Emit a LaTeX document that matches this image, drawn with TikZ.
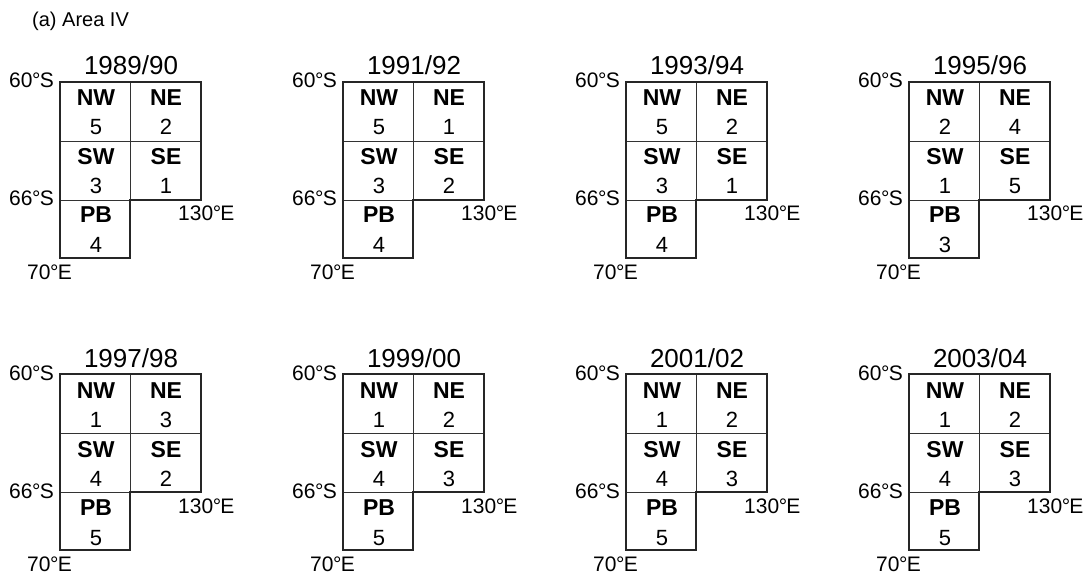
\documentclass[tikz,border=0pt]{standalone}
\usepackage{fontspec}
\setmainfont{Liberation Sans}
\usetikzlibrary{positioning}
\newcommand{\degtight}{\kern-0.4pt°\kern-0.8pt}
\tikzset{
  outline/.style   ={draw=black!85, line width=2.7pt, line join=miter},
  divider/.style   ={draw=black!80, line width=0.8pt},
  paneltitle/.style={font=\fontsize{20}{20}\selectfont, anchor=base west,
                     inner sep=0pt},
  yearlabel/.style ={font=\fontsize{26}{26}\selectfont, anchor=base,
                     inner sep=0pt},
  latlabel/.style  ={font=\fontsize{21}{21}\selectfont, anchor=base east,
                     inner sep=0pt},
  lonlabel/.style  ={font=\fontsize{21}{21}\selectfont, anchor=base west,
                     inner sep=0pt},
  cellname/.style  ={font=\fontsize{23}{23}\selectfont\bfseries, anchor=base,
                     inner sep=0pt},
  cellnum/.style   ={font=\fontsize{22}{22}\selectfont, anchor=base,
                     inner sep=0pt},
}

\begin{document}
\begin{tikzpicture}[x=1pt, y=-1pt]

  \useasboundingbox (0,0) rectangle (1086,577);

  % ============================================================
  % PANEL TITLE
  % ============================================================
  \node[paneltitle] (areatitle) at (32,27) {(a) Area IV};

  % ============================================================
  % EIGHT SEASON PANELS: origin / season / NW NE SW SE PB ranks
  % ============================================================
  \foreach \px/\py/\ya/\yb/\nw/\ne/\sw/\se/\pb [count=\k] in {
      60/82/1989/90/5/2/3/1/4,   343/82/1991/92/5/1/3/2/4,
      626/82/1993/94/5/2/3/1/4,  909/82/1995/96/2/4/1/5/3,
      60/374/1997/98/1/3/4/2/5,  343/374/1999/00/1/2/4/3/5,
      626/374/2001/02/1/2/4/3/5, 909/374/2003/04/1/2/4/3/5}{
    \begin{scope}[shift={(\px,\py)}]
      % strata grid
      \draw[divider] (70,0) -- (70,118);
      \draw[divider] (0,59) -- (141,59);
      \draw[divider] (0,118) -- (70,118);
      \draw[outline] (0,0) -| (141,118) -| (70,176) -- (0,176) -- cycle;

      % season and coordinates
      \node[yearlabel] (year\k)    at (71,-7)   {\ya/\yb};
      \node[latlabel]  (lattop\k)  at (-6,6)    {60\degtight S};
      \node[latlabel]  (latbot\k)  at (-6,124)  {66\degtight S};
      \node[lonlabel]  (loneast\k) at (118,139) {130\degtight E};
      \node[lonlabel]  (lonwest\k) at (-33,197) {70\degtight E};

      % strata names and ranks
      \node[cellname] (nwname\k) at (36,24)   {NW};
      \node[cellnum]  (nwnum\k)  at (36,53)   {\nw};
      \node[cellname] (nename\k) at (106,24)  {NE};
      \node[cellnum]  (nenum\k)  at (106,53)  {\ne};
      \node[cellname] (swname\k) at (36,83)   {SW};
      \node[cellnum]  (swnum\k)  at (36,112)  {\sw};
      \node[cellname] (sename\k) at (106,83)  {SE};
      \node[cellnum]  (senum\k)  at (106,112) {\se};
      \node[cellname] (pbname\k) at (36,141)  {PB};
      \node[cellnum]  (pbnum\k)  at (36,171)  {\pb};
    \end{scope}
  }

\end{tikzpicture}
\end{document}
